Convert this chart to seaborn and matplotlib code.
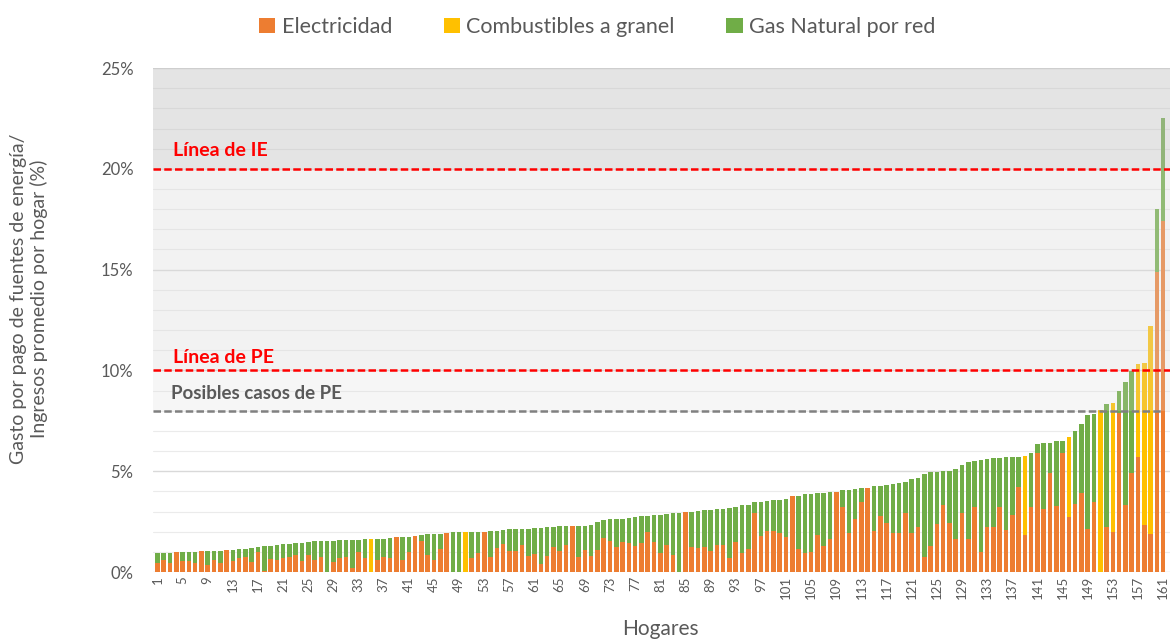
import numpy as np
import pandas as pd
import matplotlib
matplotlib.use('Agg')
import matplotlib.pyplot as plt
import seaborn as sns
from matplotlib.patches import Patch
from matplotlib.ticker import FuncFormatter, MultipleLocator

# ── data (% of household income spent on each energy source) ─────────────────
hogares = list(range(1, 162))

electricidad = [
    0.46, 0.60, 0.43, 0.98, 0.55, 0.55, 0.46, 1.02, 0.35, 0.60,
    0.43, 1.07, 0.55, 0.68, 0.73, 0.51, 0.99, 0.07, 0.66, 0.60,
    0.68, 0.76, 0.84, 0.55, 0.84, 0.60, 0.76, 0.00, 0.51, 0.71,
    0.73, 0.18, 1.00, 0.71, 0.00, 0.60, 0.73, 0.68, 1.74, 0.60,
    1.00, 1.79, 1.55, 0.84, 0.60, 1.12, 1.92, 0.00, 0.00, 0.00,
    0.71, 0.93, 2.00, 0.73, 1.20, 1.39, 1.04, 1.04, 1.32, 0.81,
    0.91, 0.40, 0.81, 1.24, 1.04, 1.34, 2.27, 0.76, 1.09, 0.81,
    1.07, 1.69, 1.55, 1.22, 1.47, 1.45, 1.31, 1.42, 1.98, 1.50,
    0.96, 1.36, 0.84, 0.00, 2.96, 1.22, 1.17, 1.22, 1.04, 1.34,
    1.34, 0.68, 1.47, 0.93, 1.12, 2.91, 1.79, 2.05, 2.05, 1.92,
    1.75, 3.76, 1.14, 0.93, 1.01, 1.83, 1.31, 1.66, 3.98, 3.24,
    1.95, 2.63, 3.49, 4.16, 2.05, 2.78, 2.41, 1.92, 1.92, 2.91,
    1.92, 2.21, 0.73, 1.31, 2.38, 3.32, 2.45, 1.62, 2.91, 1.62,
    3.24, 1.01, 2.21, 2.21, 3.24, 2.08, 2.83, 4.23, 1.83, 3.24,
    5.92, 3.11, 4.93, 3.26, 5.92, 2.71, 3.37, 3.90, 2.12, 3.49,
    0.00, 2.22, 2.00, 7.87, 3.32, 4.90, 5.72, 2.32, 1.87, 14.90,
    17.40,
]

combustibles = [0.0] * 161
for h, v in [(35, 1.64), (50, 1.98), (139, 3.92), (146, 4.01), (151, 8.04),
             (153, 6.38), (157, 4.60), (158, 8.06), (159, 10.33)]:
    combustibles[h - 1] = v

gas_natural = [
    0.47, 0.33, 0.53, 0.00, 0.43, 0.43, 0.54, 0.00, 0.69, 0.45,
    0.63, 0.00, 0.53, 0.44, 0.43, 0.69, 0.26, 1.22, 0.65, 0.73,
    0.69, 0.63, 0.59, 0.90, 0.63, 0.92, 0.78, 1.55, 1.05, 0.87,
    0.86, 1.42, 0.61, 0.91, 0.00, 1.04, 0.93, 1.03, 0.00, 1.15,
    0.76, 0.00, 0.31, 1.04, 1.29, 0.78, 0.00, 1.97, 1.98, 0.00,
    1.28, 1.06, 0.00, 1.29, 0.85, 0.71, 1.08, 1.08, 0.81, 1.34,
    1.25, 1.77, 1.40, 1.00, 1.22, 0.92, 0.00, 1.53, 1.21, 1.50,
    1.39, 0.89, 1.07, 1.41, 1.17, 1.23, 1.42, 1.35, 0.82, 1.32,
    1.88, 1.50, 2.07, 2.95, 0.00, 1.77, 1.86, 1.85, 2.06, 1.78,
    1.79, 2.48, 1.74, 2.37, 2.19, 0.55, 1.69, 1.49, 1.50, 1.66,
    1.85, 0.00, 2.63, 2.93, 2.88, 2.07, 2.62, 2.30, 0.00, 0.82,
    2.13, 1.51, 0.66, 0.00, 2.22, 1.51, 1.93, 2.44, 2.48, 1.57,
    2.70, 2.43, 4.11, 3.66, 2.60, 1.67, 2.55, 3.47, 2.40, 3.84,
    2.29, 4.54, 3.42, 3.43, 2.41, 3.62, 2.89, 1.50, 0.00, 2.68,
    0.43, 3.30, 1.49, 3.22, 0.58, 0.00, 3.62, 3.42, 5.67, 4.37,
    0.00, 6.11, 0.00, 1.13, 6.12, 5.09, 0.00, 0.00, 0.00, 3.10,
    5.10,
]

series_labels = ['Electricidad', 'Combustibles a granel', 'Gas Natural por red']
COLORS = ['#ED7D31', '#FFC000', '#70AD47']
GRAY = '#595959'

df = pd.DataFrame({
    'Hogar': hogares,
    'Electricidad': electricidad,
    'Combustibles': combustibles,
    'Gas': gas_natural,
})
df['tope_comb'] = df['Electricidad'] + df['Combustibles']
df['tope_total'] = df['tope_comb'] + df['Gas']

# ── style ─────────────────────────────────────────────────────────────────────
sns.set_style('white')
plt.rcParams['font.family'] = ['Lato', 'DejaVu Sans']

fig = plt.figure(figsize=(11.71, 6.42), dpi=100)
ax = fig.add_axes([0.1307, 0.109, 0.8685, 0.785])

# stacked bars: draw cumulative tops, tallest first
for col, c in [('tope_total', COLORS[2]), ('tope_comb', COLORS[1]),
               ('Electricidad', COLORS[0])]:
    sns.barplot(data=df, x='Hogar', y=col, color=c, saturation=1,
                width=0.72, linewidth=0, edgecolor='none', ax=ax, zorder=2)

# shaded zones (semi-transparent, on top of the bars)
ax.axhspan(8, 10, color='#d9d9d9', alpha=0.22, lw=0, zorder=3)
ax.axhspan(10, 20, color='#d9d9d9', alpha=0.32, lw=0, zorder=3)
ax.axhspan(20, 25, color='#bfbfbf', alpha=0.42, lw=0, zorder=3)

# grid
ax.set_ylim(0, 25)
ax.set_xlim(-0.7, 161.1)
ax.yaxis.set_major_locator(MultipleLocator(5))
ax.yaxis.set_minor_locator(MultipleLocator(1))
ax.grid(axis='y', which='major', color='#d9d9d9', lw=1.0, zorder=0)
ax.grid(axis='y', which='minor', color='#ebebeb', lw=0.8, zorder=0)
ax.set_axisbelow(True)

# threshold lines
ax.axhline(20, color='#FF0000', ls=(0, (3, 1.3)), lw=1.8, zorder=4)
ax.axhline(10, color='#FF0000', ls=(0, (3, 1.3)), lw=1.8, zorder=4)
ax.hlines(8, -0.7, 160, color='#808080', ls=(0, (3, 1.3)), lw=1.8, zorder=4)

ax.text(2.5, 20.9, 'Línea de IE', color='#FF0000', fontsize=14,
        fontweight='bold', va='center', ha='left', zorder=5)
ax.text(2.5, 10.65, 'Línea de PE', color='#FF0000', fontsize=14,
        fontweight='bold', va='center', ha='left', zorder=5)
ax.text(2.2, 8.88, 'Posibles casos de PE', color=GRAY, fontsize=13.5,
        fontweight='bold', va='center', ha='left', zorder=5)

# axes cosmetics
sns.despine(ax=ax, left=True, bottom=True)
ax.yaxis.set_major_formatter(FuncFormatter(lambda v, _: f'{v:.0f}%'))
ax.tick_params(axis='y', which='both', length=0, labelsize=12,
               labelcolor=GRAY, pad=14)
ticks = list(range(0, 161, 4))
ax.set_xticks(ticks)
ax.set_xticklabels([str(hogares[t]) for t in ticks], rotation=90)
ax.tick_params(axis='x', length=0, labelsize=9.5, labelcolor=GRAY, pad=3)
ax.set_xlabel('')
ax.set_ylabel('')

fig.text(0.025, 0.535,
         'Gasto por pago de fuentes de energía/\nIngresos promedio por hogar (%)',
         rotation=90, ha='center', va='center', fontsize=14, color=GRAY,
         multialignment='center', linespacing=1.2)
fig.text(0.564, 0.02, 'Hogares', ha='center', va='center', fontsize=15,
         color=GRAY)

handles = [Patch(facecolor=c, edgecolor='none') for c in COLORS]
fig.legend(handles, series_labels, loc='center', bbox_to_anchor=(0.51, 0.958),
           ncol=3, frameon=False, fontsize=15.5, handlelength=0.75,
           handleheight=0.75, handletextpad=0.3, columnspacing=2.4,
           labelcolor=GRAY)

plt.savefig('out.png', dpi=100)
